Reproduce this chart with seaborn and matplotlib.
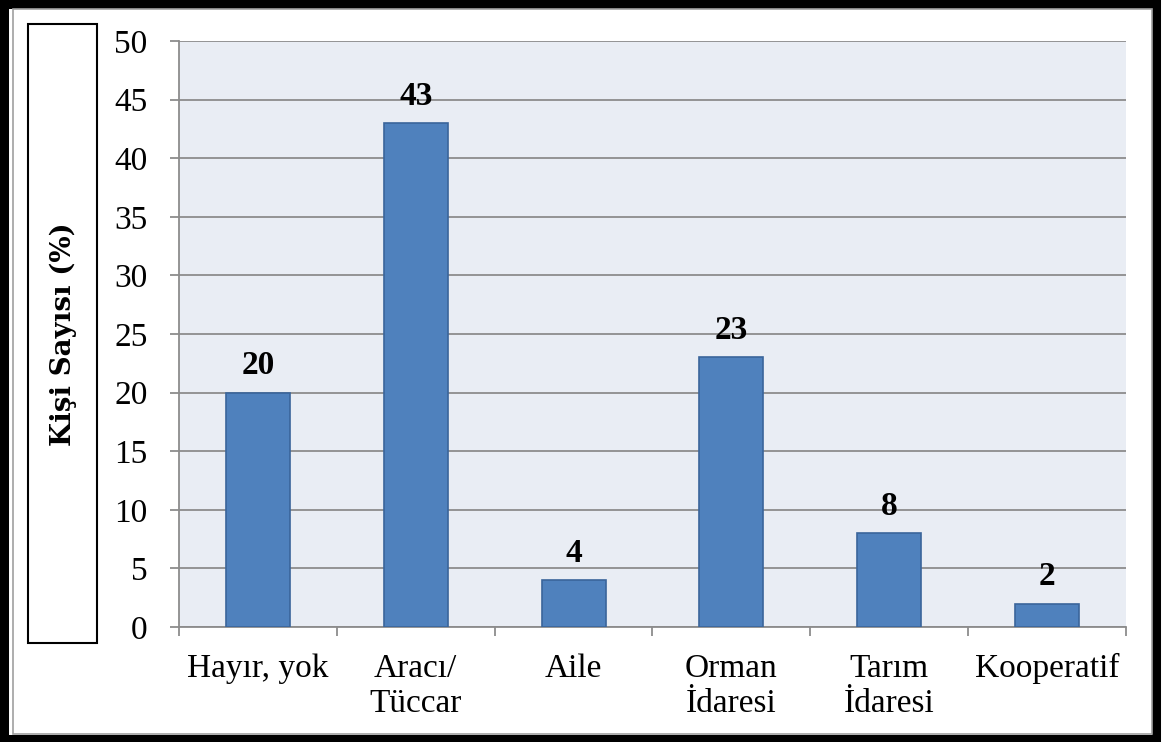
import matplotlib
matplotlib.use("Agg")
import matplotlib.pyplot as plt
import seaborn as sns
from matplotlib.patches import Rectangle
from matplotlib.ticker import FixedLocator


# values
categories = ["Hayır, yok", "Aracı/\nTüccar", "Aile", "Orman\nİdaresi", "Tarım\nİdaresi", "Kooperatif"]
values = [20, 43, 4, 23, 8, 2]
y_ticks = list(range(0, 51, 5))
y_label = "Kişi Sayısı (%)"

BAR_COLOR = "#4F81BD"
BAR_EDGE = "#3A659B"
PLOT_BG = "#E9EDF4"
GRID_COLOR = "#8C8C8C"

sns.set_style("white")
# set the font list after seaborn, otherwise it gets reset
plt.rcParams["font.family"] = ["Liberation Serif", "DejaVu Serif"]
plt.rcParams["text.color"] = "black"
plt.rcParams["xtick.labelcolor"] = "black"
plt.rcParams["ytick.labelcolor"] = "black"

fig = plt.figure(figsize=(11.69, 7.42), dpi=100)
fig.patch.set_facecolor("white")

# plot area placed to match the reference pixels
W, H = 1169, 742
ax = fig.add_axes([179 / W, 1 - 627 / H, (1126 - 179) / W, (627 - 41) / H])
ax.set_facecolor(PLOT_BG)

sns.barplot(x=categories, y=values, color=BAR_COLOR, saturation=1, width=0.405,
            edgecolor=BAR_EDGE, linewidth=1.2, ax=ax, zorder=3)

ax.set_xlim(-0.5, len(categories) - 0.5)
ax.set_ylim(0, 50)
ax.set_yticks(y_ticks)
ax.set_xlabel("")
ax.set_ylabel("")

# horizontal gridlines only, like Excel
ax.yaxis.grid(True, color=GRID_COLOR, linewidth=1.3, zorder=0)
ax.xaxis.grid(False)
ax.set_axisbelow(True)

for side in ["top", "right"]:
    ax.spines[side].set_visible(False)
for side in ["left", "bottom"]:
    ax.spines[side].set_color(GRID_COLOR)
    ax.spines[side].set_linewidth(1.3)

ax.tick_params(axis="y", direction="out", length=6.5, width=1.3, color=GRID_COLOR,
               labelsize=24, pad=16, left=True)
# category labels at centers, tick marks at the boundaries
ax.tick_params(axis="x", which="major", length=0, labelsize=24, pad=19)
ax.xaxis.set_minor_locator(FixedLocator([i - 0.5 for i in range(len(categories) + 1)]))
ax.tick_params(axis="x", which="minor", direction="out", length=6.5, width=1.3,
               color=GRID_COLOR, bottom=True)
for lbl in ax.get_xticklabels():
    lbl.set_horizontalalignment("center")
    lbl.set_multialignment("center")

# value labels above each bar
for cont in ax.containers:
    ax.bar_label(cont, labels=[str(v) for v in values], padding=8,
                 fontsize=24, fontweight="bold", color="black")

# box around the rotated y label
fig.add_artist(Rectangle((28 / W, 1 - 643 / H), (97 - 28) / W, (643 - 24) / H,
                         transform=fig.transFigure, fill=False,
                         edgecolor="black", linewidth=1.5))
fig.text(63 / W, 1 - 334 / H, y_label, rotation=90, ha="center", va="center",
         fontsize=20, fontweight="bold", family=["DejaVu Serif"])

# outer frame: thick black border plus a thin gray inner line
fig.add_artist(Rectangle((4 / W, 3 / H), (1156 - 4) / W, (738 - 3) / H,
                         transform=fig.transFigure, fill=False,
                         edgecolor="black", linewidth=6.5))
fig.add_artist(Rectangle((13 / W, 8 / H), (1152 - 13) / W, (733 - 8) / H,
                         transform=fig.transFigure, fill=False,
                         edgecolor="#A0A0A0", linewidth=1.2))

fig.savefig("out.png", dpi=100)
plt.close()
